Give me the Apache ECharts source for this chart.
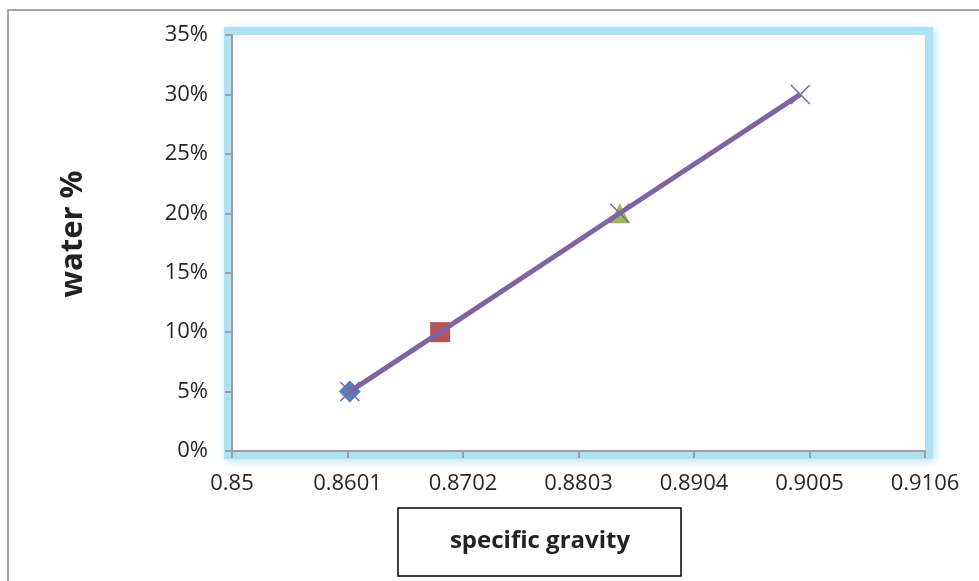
<!DOCTYPE html>
<html>
<head>
<meta charset="utf-8">
<script src="https://cdn.jsdelivr.net/npm/echarts@6/dist/echarts.min.js"></script>
<style>
html,body{margin:0;padding:0;background:#fff;}
#c{width:979px;height:581px;}
</style>
</head>
<body>
<div id="c"></div>
<script>
// ---- data ----
var xTickLabels = ['0.85','0.8601','0.8702','0.8803','0.8904','0.9005','0.9106'];
var yTickLabels = ['0%','5%','10%','15%','20%','25%','30%','35%'];
var seriesNames = ['s1','s2','s3','s4'];
var specificGravity = [0.8603, 0.8682, 0.8839, 0.8997];
var waterPct = [5, 10, 20, 30];
var xAxisTitle = 'specific gravity';
var yAxisTitle = 'water %';

var chart = echarts.init(document.getElementById('c'), null, {renderer:'canvas'});

var F = '"Open Sans", "Liberation Sans", sans-serif';
var xMin = parseFloat(xTickLabels[0]);
var xMax = parseFloat(xTickLabels[xTickLabels.length-1]);
var xStep = Math.round((parseFloat(xTickLabels[1]) - xMin)*1e6)/1e6;

var G = {left:232, top:35, right:54, bottom:130};
var W = 979, H = 581;
var gw = W - G.left - G.right, gh = H - G.top - G.bottom;

var pts = specificGravity.map(function(x,i){return [x, waterPct[i]];});

var option = {
  animation:false,
  backgroundColor:'#fff',
  grid:{left:G.left, top:G.top, right:G.right, bottom:G.bottom, show:true, backgroundColor:'#fff', borderWidth:0, z:0},
  graphic:[
    {type:'rect', z:-20, shape:{x:8, y:10, width:1200, height:900}, style:{fill:'#fff', stroke:'#a6a6a6', lineWidth:2}},
    {type:'rect', z:-10, shape:{x:G.left-4, y:G.top-4, width:gw+8, height:gh+8},
      style:{fill:'none', stroke:'#b0e1f2', lineWidth:8, shadowBlur:8, shadowColor:'#b0e1f2', shadowOffsetX:2, shadowOffsetY:2}},
    {type:'rect', z:5, shape:{x:398, y:508, width:283, height:68}, style:{fill:'#fff', stroke:'#000', lineWidth:1.5}},
    {type:'text', z:6, style:{x:540, y:541, text:xAxisTitle, align:'center', verticalAlign:'middle', font:'bold 24px '+F, fill:'#222'}},
    {type:'text', z:6, x:73, y:234, rotation:Math.PI/2, style:{x:0, y:0, text:yAxisTitle, align:'center', verticalAlign:'middle', font:'bold 31px '+F, fill:'#222'}}
  ],
  xAxis:{
    type:'value', min:xMin, max:xMax, interval:xStep,
    splitLine:{show:false},
    axisLine:{show:true, onZero:false, lineStyle:{color:'#a0a0a0', width:2}},
    axisTick:{show:true, length:7, lineStyle:{color:'#a0a0a0', width:2}},
    axisLabel:{margin:22, fontSize:22, fontFamily:F, color:'#262626', showMinLabel:true, showMaxLabel:true,
      formatter:function(v){ var i=Math.round((v-xMin)/xStep); return xTickLabels[i]!==undefined?xTickLabels[i]:v; }}
  },
  yAxis:{
    type:'value', min:0, max:35, interval:5,
    splitLine:{show:false},
    axisLine:{show:true, lineStyle:{color:'#a0a0a0', width:2}},
    axisTick:{show:true, length:7, lineStyle:{color:'#a0a0a0', width:2}},
    axisLabel:{margin:24, fontSize:22, fontFamily:F, color:'#262626',
      formatter:function(v){ return yTickLabels[Math.round(v/5)]; }}
  },
  series:[
    {name:seriesNames[0], type:'scatter', data:[pts[0]], symbol:'diamond', symbolSize:22, itemStyle:{color:'#4F81BD', opacity:1}, z:2},
    {name:seriesNames[1], type:'scatter', data:[pts[1]], symbol:'rect', symbolSize:20, itemStyle:{color:'#C0504D', opacity:1}, z:2},
    {name:seriesNames[2], type:'scatter', data:[pts[2]], symbol:'triangle', symbolSize:20, itemStyle:{color:'#9BBB59', opacity:1}, z:2},
    {name:seriesNames[3], type:'line', data:pts, symbol:'path://M0,0L10,10M10,0L0,10', symbolSize:19, showSymbol:true,
      lineStyle:{color:'#8064A2', width:5}, itemStyle:{color:'none', borderColor:'#8064A2', borderWidth:1.5}, z:3}
  ]
};
chart.setOption(option);
</script>
</body>
</html>
